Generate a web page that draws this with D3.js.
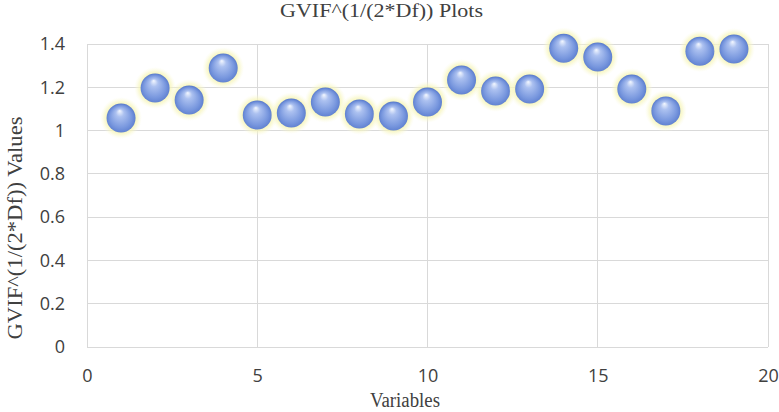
<html>
  <head>
    <meta charset="utf-8" />
    <script src="https://cdnjs.cloudflare.com/ajax/libs/d3/7.6.1/d3.min.js"></script>
    <style>
      body { margin: 0; background: #fff; }
      svg { display: block; }
      .grid line { stroke: #d9d9d9; stroke-width: 1; shape-rendering: crispEdges; }
      .tick text { font-family: "Open Sans", sans-serif; font-size: 18px; fill: #404040; }
      .title { font-family: "Liberation Serif", serif; font-size: 18px; fill: #404040; }
      .axis-title { font-family: "Liberation Serif", serif; font-size: 20px; fill: #404040; }
    </style>
  </head>
  <body>
    <svg width="779" height="412"></svg>
  </body>
  <script>
    // variable index and GVIF^(1/(2*Df)) value
    var variables = [1, 2, 3, 4, 5, 6, 7, 8, 9, 10, 11, 12, 13, 14, 15, 16, 17, 18, 19];
    var gvifValues = [1.058, 1.197, 1.141, 1.289, 1.072, 1.081, 1.132, 1.077, 1.067, 1.132,
                      1.234, 1.183, 1.192, 1.380, 1.340, 1.192, 1.091, 1.367, 1.377];
    var xTicks = [0, 5, 10, 15, 20];
    var yTicks = [0, 0.2, 0.4, 0.6, 0.8, 1, 1.2, 1.4];

    const points = variables.map((v, i) => ({ x: v, y: gvifValues[i] }));

    const svg = d3.select("svg");
    const margin = { left: 87, right: 11, top: 44, bottom: 65 };
    const W = 779, H = 412;

    const xScale = d3.scaleLinear().domain([0, 20]).range([margin.left, W - margin.right]);
    const yScale = d3.scaleLinear().domain([0, 1.4]).range([H - margin.bottom, margin.top]);

    // gridlines
    const grid = svg.append("g").attr("class", "grid");
    grid.selectAll("line.h").data(yTicks).enter().append("line")
      .attr("class", "h")
      .attr("x1", xScale(0)).attr("x2", xScale(20))
      .attr("y1", (d) => yScale(d)).attr("y2", (d) => yScale(d));
    grid.selectAll("line.v").data(xTicks).enter().append("line")
      .attr("class", "v")
      .attr("y1", yScale(0)).attr("y2", yScale(1.4))
      .attr("x1", (d) => xScale(d)).attr("x2", (d) => xScale(d));

    // axes (labels only)
    const yAxis = d3.axisLeft(yScale).tickValues(yTicks).tickSize(0).tickPadding(22)
      .tickFormat(d3.format("~g"));
    svg.append("g").attr("transform", `translate(${margin.left},0)`).call(yAxis)
      .call((g) => g.select(".domain").remove());

    const xAxis = d3.axisBottom(xScale).tickValues(xTicks).tickSize(0).tickPadding(22);
    svg.append("g").attr("transform", `translate(0,${yScale(0)})`).call(xAxis)
      .call((g) => g.select(".domain").remove());

    // gradients
    const defs = svg.append("defs");
    const glow = defs.append("radialGradient").attr("id", "glow");
    glow.append("stop").attr("offset", "60%").attr("stop-color", "#f4f2a0").attr("stop-opacity", 0.9);
    glow.append("stop").attr("offset", "80%").attr("stop-color", "#f7f6c0").attr("stop-opacity", 0.6);
    glow.append("stop").attr("offset", "100%").attr("stop-color", "#fbfbe0").attr("stop-opacity", 0);

    const ball = defs.append("radialGradient").attr("id", "ball")
      .attr("cx", "50%").attr("cy", "55%").attr("r", "55%")
      .attr("fx", "45%").attr("fy", "25%");
    ball.append("stop").attr("offset", "0%").attr("stop-color", "#f4f8ff");
    ball.append("stop").attr("offset", "25%").attr("stop-color", "#acc1f0");
    ball.append("stop").attr("offset", "70%").attr("stop-color", "#7897de");
    ball.append("stop").attr("offset", "100%").attr("stop-color", "#5476ca");

    const marks = svg.append("g").selectAll("g").data(points).enter().append("g")
      .attr("transform", (d) => `translate(${xScale(d.x)},${yScale(d.y)})`);
    marks.append("circle").attr("r", 21).attr("fill", "url(#glow)");
    marks.append("circle").attr("r", 14.5).attr("fill", "url(#ball)");

    // titles
    svg.append("text").attr("class", "title")
      .attr("x", 381.5).attr("y", 17)
      .attr("text-anchor", "middle")
      .attr("textLength", 203).attr("lengthAdjust", "spacingAndGlyphs")
      .text("GVIF^(1/(2*Df)) Plots");
    svg.append("text").attr("class", "axis-title")
      .attr("x", 405).attr("y", 407)
      .attr("text-anchor", "middle")
      .attr("font-size", 19)
      .attr("textLength", 70).attr("lengthAdjust", "spacingAndGlyphs")
      .text("Variables");
    svg.append("text").attr("class", "axis-title")
      .attr("transform", "translate(22,228) rotate(-90)")
      .attr("text-anchor", "middle")
      .attr("textLength", 223).attr("lengthAdjust", "spacingAndGlyphs")
      .text("GVIF^(1/(2*Df)) Values");
  </script>
</html>
